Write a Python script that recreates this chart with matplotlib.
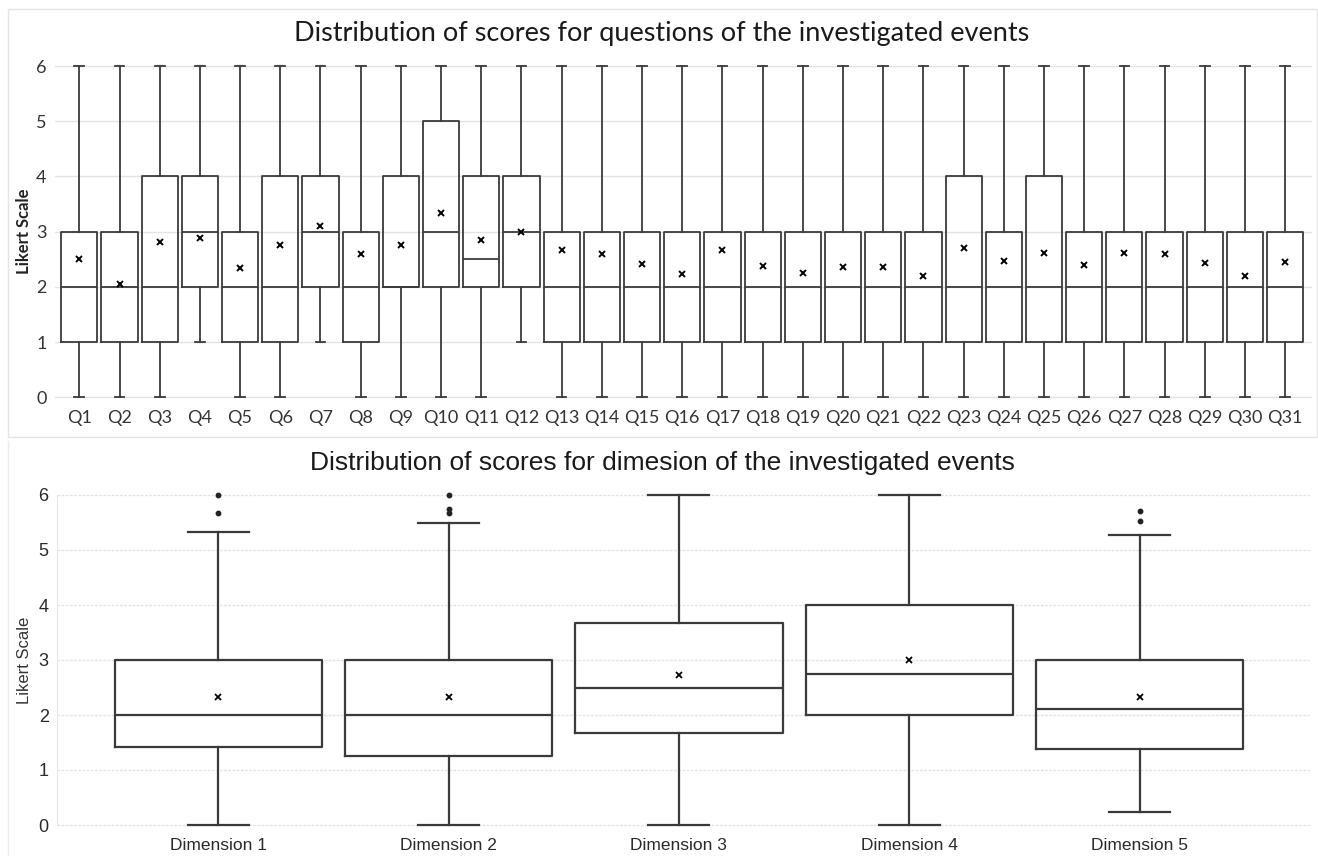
import matplotlib
matplotlib.use("Agg")
import matplotlib.pyplot as plt
from matplotlib.patches import Rectangle
from matplotlib.lines import Line2D

# ---------------- data: questions ----------------
q_labels = [f"Q{i}" for i in range(1, 32)]
q_whislo = [0, 0, 0, 1, 0, 0, 1, 0, 0, 0, 0, 1, 0, 0, 0, 0, 0, 0, 0, 0, 0, 0, 0, 0, 0, 0, 0, 0, 0, 0, 0]
q_q1 = [1, 1, 1, 2, 1, 1, 2, 1, 2, 2, 2, 2, 1, 1, 1, 1, 1, 1, 1, 1, 1, 1, 1, 1, 1, 1, 1, 1, 1, 1, 1]
q_med = [2, 2, 2, 3, 2, 2, 3, 2, 2, 3, 2.5, 3, 2, 2, 2, 2, 2, 2, 2, 2, 2, 2, 2, 2, 2, 2, 2, 2, 2, 2, 2]
q_q3 = [3, 3, 4, 4, 3, 4, 4, 3, 4, 5, 4, 4, 3, 3, 3, 3, 3, 3, 3, 3, 3, 3, 4, 3, 4, 3, 3, 3, 3, 3, 3]
q_whishi = [6] * 31
q_mean = [2.50, 2.05, 2.81, 2.89, 2.34, 2.75, 3.10, 2.60, 2.76, 3.33, 2.85, 2.99,
          2.66, 2.59, 2.41, 2.23, 2.66, 2.37, 2.26, 2.36, 2.36, 2.20, 2.70, 2.46,
          2.61, 2.40, 2.61, 2.59, 2.43, 2.19, 2.45]

# ---------------- data: dimensions ----------------
d_labels = ["Dimension 1", "Dimension 2", "Dimension 3", "Dimension 4", "Dimension 5"]
d_whislo = [0, 0, 0, 0, 0.24]
d_q1 = [1.42, 1.25, 1.67, 2.0, 1.39]
d_med = [2.0, 2.0, 2.5, 2.75, 2.11]
d_q3 = [3.0, 3.0, 3.67, 4.0, 3.0]
d_whishi = [5.33, 5.5, 6.0, 6.0, 5.27]
d_mean = [2.32, 2.33, 2.73, 3.0, 2.33]
d_fliers = [[5.67, 6.0], [5.67, 5.75, 6.0], [], [], [5.53, 5.70]]

W, H = 1318, 856
fig = plt.figure(figsize=(W / 100, H / 100), dpi=100)

def stats_of(labels, lo, q1, med, q3, hi, mean, fliers=None):
    out = []
    for i in range(len(labels)):
        out.append(dict(label=labels[i], whislo=lo[i], q1=q1[i], med=med[i], q3=q3[i],
                        whishi=hi[i], mean=mean[i],
                        fliers=(fliers[i] if fliers else [])))
    return out

grid_col = "#e3e3e3"
line_col = "#3a3a3a"

# light frame around top panel
fig.patches.append(Rectangle((7.5 / W, 1 - 437 / H), (1316.5 - 7.5) / W, (437 - 9.5) / H,
                             transform=fig.transFigure, fill=False,
                             edgecolor="#e4e4e4", linewidth=1.0, zorder=0))
# faint left line of bottom panel
fig.lines.append(Line2D([7.5 / W, 7.5 / W], [0, 1 - 441 / H], transform=fig.transFigure,
                        color="#ececec", linewidth=1.0))

# ---------------- top panel ----------------
ax1 = fig.add_axes([55 / W, 1 - 401.7 / H, 1256.7 / W, 340.1 / H])
ax1.bxp(stats_of(q_labels, q_whislo, q_q1, q_med, q_q3, q_whishi, q_mean),
        positions=range(1, 32), widths=0.9, capwidths=0.24,
        showmeans=True, showfliers=False,
        boxprops=dict(color=line_col, linewidth=1.3),
        whiskerprops=dict(color=line_col, linewidth=1.3),
        capprops=dict(color=line_col, linewidth=1.3),
        medianprops=dict(color=line_col, linewidth=1.3),
        meanprops=dict(marker="x", markeredgecolor="black", markersize=5, markeredgewidth=1.4))
ax1.set_xlim(0.395, 31.66)
ax1.set_ylim(-0.08, 6.08)
ax1.set_yticks(range(0, 7))
ax1.yaxis.grid(True, color=grid_col, linewidth=1.0)
ax1.set_axisbelow(True)
for s in ax1.spines.values():
    s.set_visible(False)
ax1.tick_params(length=0, pad=6)
for lab in ax1.get_xticklabels() + ax1.get_yticklabels():
    lab.set_fontfamily("Lato")
    lab.set_fontsize(13)
    lab.set_color("#333333")
ax1.tick_params(axis="y", pad=6)
ax1.set_ylabel("Likert Scale", fontfamily="Lato", fontweight="bold", fontsize=12,
               color="#222222")
ax1.yaxis.set_label_coords(-(55 - 32) / 1256.7, 0.5)
fig.text(662 / W, 1 - 33 / H, "Distribution of scores for questions of the investigated events",
         ha="center", va="center", fontfamily="Lato", fontsize=19.5, color="#1a1a1a")

# ---------------- bottom panel ----------------
ax2 = fig.add_axes([57 / W, 1 - 829.4 / H, 1253 / W, 338.8 / H])
ax2.bxp(stats_of(d_labels, d_whislo, d_q1, d_med, d_q3, d_whishi, d_mean, d_fliers),
        positions=range(1, 6), widths=0.9, capwidths=0.265,
        showmeans=True, showfliers=True,
        boxprops=dict(color=line_col, linewidth=1.6),
        whiskerprops=dict(color=line_col, linewidth=1.6),
        capprops=dict(color=line_col, linewidth=1.6),
        medianprops=dict(color=line_col, linewidth=1.6),
        flierprops=dict(marker="o", markerfacecolor="#222222", markeredgecolor="#222222",
                        markersize=3.2),
        meanprops=dict(marker="x", markeredgecolor="black", markersize=5, markeredgewidth=1.3))
ax2.set_xlim(0.30, 5.74)
ax2.set_ylim(-0.08, 6.08)
ax2.set_yticks(range(0, 7))
ax2.yaxis.grid(True, color=grid_col, linewidth=1.0, linestyle=(0, (2, 1)))
ax2.set_axisbelow(True)
for k, s in ax2.spines.items():
    s.set_visible(False)
ax2.spines["left"].set_visible(True)
ax2.spines["left"].set_color("#e6e6e6")
ax2.spines["left"].set_bounds(0, 6)
ax2.tick_params(length=0)
ax2.tick_params(axis="y", pad=6)
ax2.tick_params(axis="x", pad=6)
for lab in ax2.get_xticklabels():
    lab.set_fontfamily("Liberation Sans")
    lab.set_fontsize(12.5)
    lab.set_color("#2a2a2a")
for lab in ax2.get_yticklabels():
    lab.set_fontfamily("Liberation Sans")
    lab.set_fontsize(13)
    lab.set_color("#2a2a2a")
ax2.set_ylabel("Likert Scale", fontfamily="Liberation Sans", fontsize=12, color="#333333")
ax2.yaxis.set_label_coords(-(57 - 32) / 1253, 0.5)
fig.text(662 / W, 1 - 463 / H, "Distribution of scores for dimesion of the investigated events",
         ha="center", va="center", fontfamily="Liberation Sans",
         fontsize=19, color="#1a1a1a")

fig.savefig("out.png", dpi=100)
